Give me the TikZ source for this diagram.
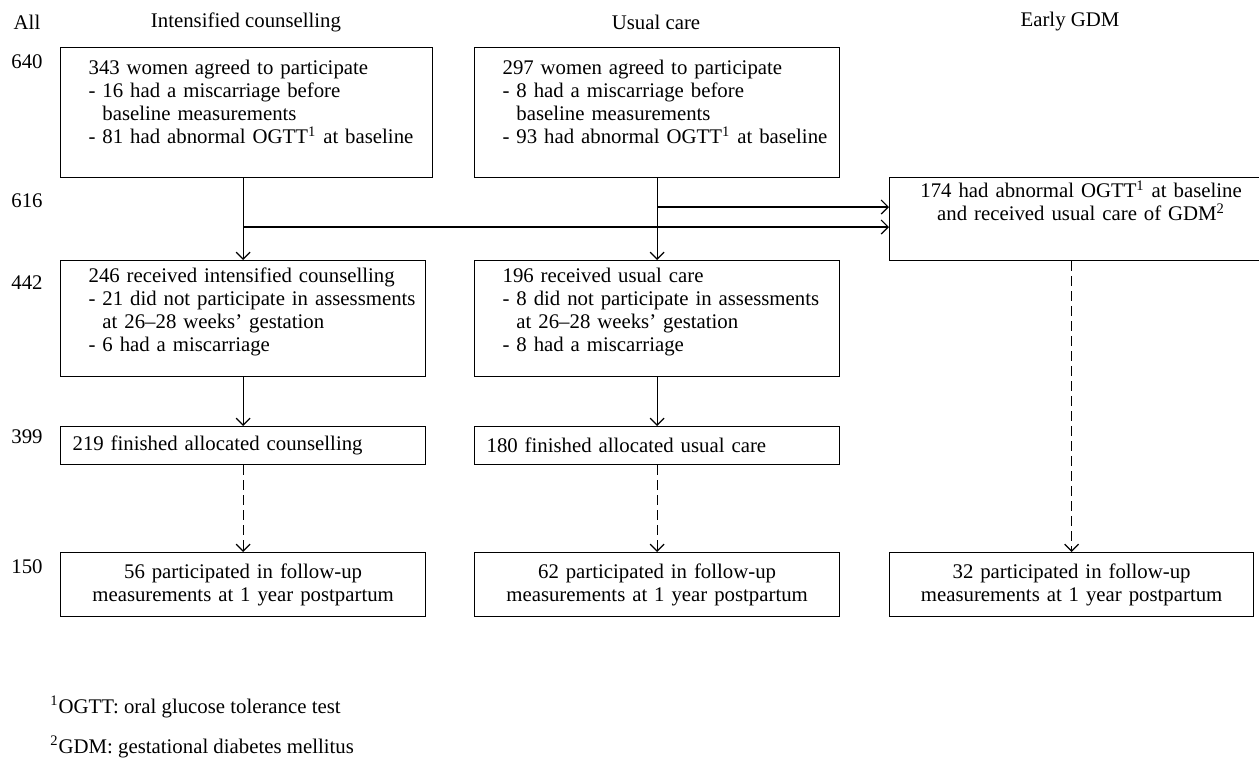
\documentclass[tikz,border=0pt]{standalone}
\usepackage{fontspec}
\setmainfont{Liberation Serif}
\usetikzlibrary{arrows.meta}
\tikzset{box/.style={draw, line width=0.6pt, anchor=north west, inner ysep=0pt},
	listbox/.style={box, inner xsep=0pt, align=left, text width=#1,
		execute at begin node={\leftskip=14pt\hyphenpenalty=10000}},
	onebox/.style={box, inner xsep=6pt, align=left, text width=#1-12pt, minimum height=19pt},
	endbox/.style={box, inner xsep=6pt, align=center, text width=#1-12pt, minimum height=32pt},
	arr/.style={line width=0.6pt, -{Straight Barb[length=3.5pt,width=7pt]}},
	darr/.style={arr, dash pattern=on 5pt off 2.5pt},
	lab/.style={inner sep=0pt}
}
\newcommand{\ind}{\phantom{- }}

\begin{document}
\begin{tikzpicture}[x=0.5pt, y=-0.5pt, font=\fontsize{10.4}{11.5}\selectfont]
	\useasboundingbox (0,0) rectangle (1259,757);
	\node[lab] (hAll) at (27,22) {All};
	\node[lab] (hIC) at (246,22) {Intensified counselling};
	\node[lab] (hUC) at (656,22) {Usual care};
	\node[lab] (hGDM) at (1070,22) {Early GDM};
	\node[lab] (n640) at (27,62) {640};
	\node[lab] (n616) at (27,201) {616};
	\node[lab] (n442) at (27,283) {442};
	\node[lab] (n399) at (27,437) {399};
	\node[lab] (n150) at (27,567) {150};

	\node[listbox=186pt, text height=13.5pt, text depth=51.5pt] (icAgreed) at (60,47)
	{343 women agreed to participate\\- 16 had a miscarriage before\\\ind baseline measurements\\- 81 had abnormal OGTT\textsuperscript{1} at baseline};
	\node[listbox=182.5pt, text height=13.5pt, text depth=51.5pt] (ucAgreed) at (474,47)
	{297 women agreed to participate\\- 8 had a miscarriage before\\\ind baseline measurements\\- 93 had abnormal OGTT\textsuperscript{1} at baseline};
	\node[box, inner xsep=6pt, align=center, text width=179.5pt, text height=10pt, text depth=31.5pt] (gdm) at (889,177)
	{174 had abnormal OGTT\textsuperscript{1} at baseline\\and received usual care of GDM\textsuperscript{2}};

	\node[listbox=182.5pt, text height=11pt, text depth=47pt] (icRec) at (60,260)
	{246 received intensified counselling\\- 21 did not participate in assessments\\\ind at 26--28 weeks' gestation\\- 6 had a miscarriage};
	\node[listbox=182.5pt, text height=11pt, text depth=47pt] (ucRec) at (474,260)
	{196 received usual care\\- 8 did not participate in assessments\\\ind at 26--28 weeks' gestation\\- 8 had a miscarriage};

	\node[onebox=182.5pt] (icFin) at (60,426) {219 finished allocated counselling};
	\node[onebox=182.5pt] (ucFin) at (474,426) {180 finished allocated usual care};

	\node[endbox=182.5pt] (icFol) at (60,552) {56 participated in follow-up\\measurements at 1 year postpartum};
	\node[endbox=182.5pt] (ucFol) at (474,552) {62 participated in follow-up\\measurements at 1 year postpartum};
	\node[endbox=182pt] (gdmFol) at (889,552) {32 participated in follow-up\\measurements at 1 year postpartum};

	\coordinate (icSplit) at (icRec.north |- 0,227);
	\coordinate (ucSplit) at (ucRec.north |- 0,207);
	\draw[arr] (icAgreed.south -| icRec.north) -- (icRec.north);
	\draw[arr] (icSplit) -- (icSplit -| gdm.west);
	\draw[arr] (ucAgreed.south) -- (ucRec.north);
	\draw[arr] (ucSplit) -- (ucSplit -| gdm.west);
	\draw[arr] (icRec.south) -- (icFin.north);
	\draw[arr] (ucRec.south) -- (ucFin.north);
	\draw[darr] (icFin.south) -- (icFol.north);
	\draw[darr] (ucFin.south) -- (ucFol.north);
	\draw[darr] (gdm.south -| gdmFol.north) -- (gdmFol.north);

	\node[lab, anchor=west] (fn1) at (50,707) {\textsuperscript{1}OGTT: oral glucose tolerance test};
	\node[lab, anchor=west] (fn2) at (50,747) {\textsuperscript{2}GDM: gestational diabetes mellitus};
\end{tikzpicture}
\end{document}
